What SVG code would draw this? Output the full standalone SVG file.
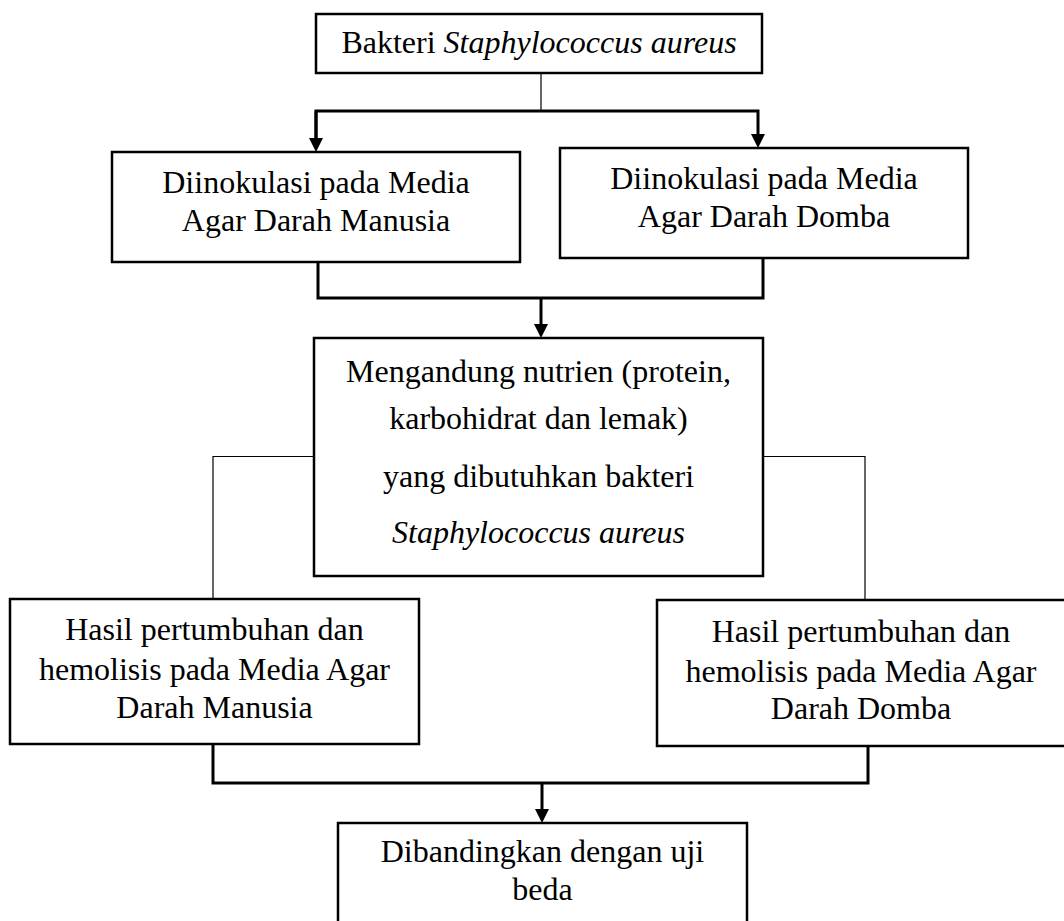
<svg xmlns="http://www.w3.org/2000/svg" width="1064" height="921" viewBox="0 0 1064 921">
  <style>
    .box { fill: #ffffff; stroke: #000000; stroke-width: 2.5; }
    .t { font-family: "Liberation Serif", "Times New Roman", serif; font-size: 32px; fill: #000000; text-anchor: middle; }
    .it { font-style: italic; }
    .thick { fill: none; stroke: #000000; stroke-width: 3; }
    .thin { fill: none; stroke: #000000; stroke-width: 1.2; }
  </style>
  <defs>
    <marker id="arr" markerUnits="userSpaceOnUse" markerWidth="16" markerHeight="16" refX="6" refY="7" orient="auto">
      <path d="M0,0 L14,7 L0,14 z" fill="#000000"/>
    </marker>
  </defs>
  <rect x="0" y="0" width="1064" height="921" fill="#ffffff"/>

  <g id="connectors">
    <line class="thin" x1="541" y1="73" x2="541" y2="111"/>
    <polyline class="thick" points="316,144 316,111 758,111 758,140" marker-end="url(#arr)"/>
    <line class="thick" x1="316" y1="111" x2="316" y2="144" marker-end="url(#arr)"/>
    <polyline class="thick" points="318,262 318,298 763,298 763,258"/>
    <line class="thick" x1="541" y1="298" x2="541" y2="330" marker-end="url(#arr)"/>
    <polyline class="thin" points="314,456.5 213,456.5 213,599"/>
    <polyline class="thin" points="763,456.5 865,456.5 865,600"/>
    <polyline class="thick" points="213,744 213,783 868,783 868,746"/>
    <line class="thick" x1="542" y1="783" x2="542" y2="815" marker-end="url(#arr)"/>
  </g>

  <g id="n-bakteri">
    <rect class="box" x="316" y="14" width="446" height="59"/>
    <text class="t" x="539" y="53">Bakteri <tspan class="it">Staphylococcus aureus</tspan></text>
  </g>

  <g id="n-manusia">
    <rect class="box" x="112" y="152" width="408" height="110"/>
    <text class="t" x="316" y="193">Diinokulasi pada Media</text>
    <text class="t" x="316" y="231">Agar Darah Manusia</text>
  </g>

  <g id="n-domba">
    <rect class="box" x="560" y="148" width="408" height="110"/>
    <text class="t" x="764" y="189">Diinokulasi pada Media</text>
    <text class="t" x="764" y="227">Agar Darah Domba</text>
  </g>

  <g id="n-nutrien">
    <rect class="box" x="314" y="338" width="449" height="238"/>
    <text class="t" x="538.5" y="382">Mengandung nutrien (protein,</text>
    <text class="t" x="538.5" y="429">karbohidrat dan lemak)</text>
    <text class="t" x="538.5" y="487">yang dibutuhkan bakteri</text>
    <text class="t it" x="538.5" y="543">Staphylococcus aureus</text>
  </g>

  <g id="n-hasil-manusia">
    <rect class="box" x="10" y="599" width="409" height="145"/>
    <text class="t" x="214.5" y="640">Hasil pertumbuhan dan</text>
    <text class="t" x="214.5" y="680">hemolisis pada Media Agar</text>
    <text class="t" x="214.5" y="718">Darah Manusia</text>
  </g>

  <g id="n-hasil-domba">
    <rect class="box" x="657" y="600" width="410" height="146"/>
    <text class="t" x="861" y="642">Hasil pertumbuhan dan</text>
    <text class="t" x="861" y="682">hemolisis pada Media Agar</text>
    <text class="t" x="861" y="719">Darah Domba</text>
  </g>

  <g id="n-banding">
    <rect class="box" x="338" y="823" width="409" height="110"/>
    <text class="t" x="542.5" y="862">Dibandingkan dengan uji</text>
    <text class="t" x="542.5" y="900">beda</text>
  </g>
</svg>
